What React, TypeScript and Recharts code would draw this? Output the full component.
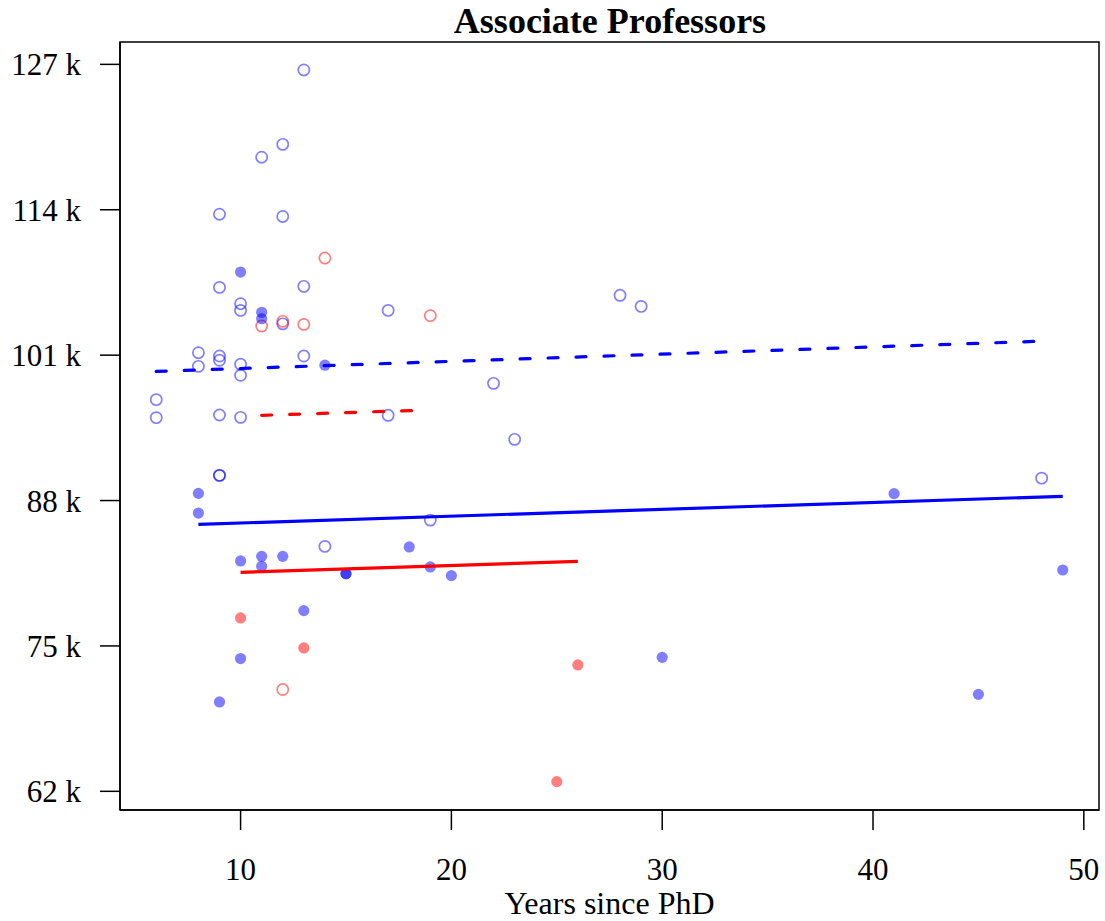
import React from "react";
import { ReferenceArea, Scatter, ScatterChart, XAxis, YAxis } from "recharts";

// years since PhD, salary in thousands
const blueOpenPts = [
  { x: 13, y: 126.5 }, { x: 12, y: 119.85 }, { x: 11, y: 118.7 }, { x: 9, y: 113.6 },
  { x: 12, y: 113.4 }, { x: 9, y: 107.06 }, { x: 13, y: 107.15 }, { x: 10, y: 105.6 },
  { x: 10, y: 105.0 }, { x: 17, y: 105.0 }, { x: 12, y: 103.8 }, { x: 8, y: 101.22 },
  { x: 8, y: 100.0 }, { x: 9, y: 100.92 }, { x: 9, y: 100.54 }, { x: 10, y: 100.18 },
  { x: 10, y: 99.2 }, { x: 13, y: 100.92 }, { x: 6, y: 97.02 }, { x: 6, y: 95.41 },
  { x: 9, y: 95.65 }, { x: 10, y: 95.44 }, { x: 17, y: 95.62 }, { x: 9, y: 90.25 },
  { x: 9, y: 90.25 }, { x: 22, y: 98.48 }, { x: 23, y: 93.47 }, { x: 28, y: 106.35 },
  { x: 29, y: 105.36 }, { x: 48, y: 90.0 }, { x: 19, y: 86.25 }, { x: 14, y: 83.9 },
];

const blueFilledPts = [
  { x: 10, y: 108.43 }, { x: 11, y: 104.83 }, { x: 11, y: 104.26 }, { x: 14, y: 100.1 },
  { x: 8, y: 88.64 }, { x: 8, y: 86.88 }, { x: 10, y: 82.6 }, { x: 11, y: 83.01 },
  { x: 11, y: 82.12 }, { x: 12, y: 83.01 }, { x: 15, y: 81.46 }, { x: 15, y: 81.46 },
  { x: 18, y: 83.85 }, { x: 19, y: 82.06 }, { x: 20, y: 81.29 }, { x: 13, y: 78.16 },
  { x: 10, y: 73.87 }, { x: 9, y: 69.99 }, { x: 30, y: 73.98 }, { x: 41, y: 88.62 },
  { x: 49, y: 81.79 }, { x: 45, y: 70.67 },
];

const redOpenPts = [
  { x: 14, y: 109.68 }, { x: 19, y: 104.53 }, { x: 11, y: 103.6 },
  { x: 12, y: 104.02 }, { x: 13, y: 103.75 }, { x: 12, y: 71.1 },
];

const redFilledPts = [
  { x: 10, y: 77.5 }, { x: 13, y: 74.82 }, { x: 26, y: 73.3 }, { x: 25, y: 62.87 },
];

// fitted lines (end points)
const blueOpenFit = [{ x: 6, y: 99.55 }, { x: 47.7, y: 102.23 }];
const redOpenFit = [{ x: 11, y: 95.62 }, { x: 18.5, y: 96.07 }];
const blueFilledFit = [{ x: 8, y: 85.87 }, { x: 49, y: 88.38 }];
const redFilledFit = [{ x: 10, y: 81.58 }, { x: 26, y: 82.56 }];

const xTicks = [10, 20, 30, 40, 50];
const yTicks = [62, 75, 88, 101, 114, 127];
const xRange = [4.28, 50.72];
const yRange = [60.33, 129.0];

const FONT = "'Liberation Serif', 'DejaVu Serif', serif";
const BLUE = "rgba(0,0,255,0.5)";
const RED = "rgba(255,0,0,0.5)";

const openDot = (color: string) => (p: any) => (
  <circle cx={p.cx} cy={p.cy} r={5.6} fill="none" stroke={color} strokeWidth={1.7} />
);
const filledDot = (color: string) => (p: any) => (
  <circle cx={p.cx} cy={p.cy} r={5.6} fill={color} stroke="none" />
);
const noDot = () => <g />;

export default function App() {
  const tickStyle = { fill: "#000", fontSize: 31, fontFamily: FONT };
  return (
    <div style={{ position: "absolute", left: 0, top: 0, width: 1105, height: 921, background: "#fff" }}>
      <div
        style={{
          position: "absolute",
          left: 120,
          top: 3,
          width: 980,
          textAlign: "center",
          fontFamily: FONT,
          fontWeight: "bold",
          fontSize: 36,
          lineHeight: "36px",
          color: "#000",
        }}
      >
        Associate Professors
      </div>
      <ScatterChart width={1105} height={921} margin={{ top: 42, right: 6, left: 0, bottom: 0 }}>
        <XAxis
          type="number"
          dataKey="x"
          domain={xRange}
          ticks={xTicks}
          allowDataOverflow
          height={111}
          tick={tickStyle}
          tickSize={20}
          tickMargin={28}
          axisLine={{ stroke: "#000", strokeWidth: 1.5 }}
          tickLine={{ stroke: "#000", strokeWidth: 1.5 }}
          label={{
            value: "Years since PhD",
            position: "insideBottom",
            offset: 7,
            style: { fill: "#000", fontSize: 32, fontFamily: FONT },
          }}
        />
        <YAxis
          type="number"
          dataKey="y"
          domain={yRange}
          ticks={yTicks}
          allowDataOverflow
          width={120}
          tick={tickStyle}
          tickSize={20}
          tickMargin={19}
          tickFormatter={(v: number) => `${v} k`}
          axisLine={{ stroke: "#000", strokeWidth: 1.5 }}
          tickLine={{ stroke: "#000", strokeWidth: 1.5 }}
        />
        <ReferenceArea
          x1={xRange[0]}
          x2={xRange[1]}
          y1={yRange[0]}
          y2={yRange[1]}
          fill="none"
          fillOpacity={0}
          stroke="#000"
          strokeWidth={1.5}
          strokeOpacity={1}
        />
        <Scatter data={blueOpenPts} shape={openDot(BLUE)} isAnimationActive={false} />
        <Scatter data={redOpenPts} shape={openDot(RED)} isAnimationActive={false} />
        <Scatter data={blueFilledPts} shape={filledDot(BLUE)} isAnimationActive={false} />
        <Scatter data={redFilledPts} shape={filledDot(RED)} isAnimationActive={false} />
        <Scatter
          data={blueOpenFit}
          shape={noDot}
          line={{ stroke: "#0000ff", strokeWidth: 3.2, strokeDasharray: "10 18", strokeLinecap: "round" }}
          isAnimationActive={false}
        />
        <Scatter
          data={redOpenFit}
          shape={noDot}
          line={{ stroke: "#ff0000", strokeWidth: 3.2, strokeDasharray: "10 18", strokeLinecap: "round" }}
          isAnimationActive={false}
        />
        <Scatter
          data={blueFilledFit}
          shape={noDot}
          line={{ stroke: "#0000ff", strokeWidth: 3.2 }}
          isAnimationActive={false}
        />
        <Scatter
          data={redFilledFit}
          shape={noDot}
          line={{ stroke: "#ff0000", strokeWidth: 3.2 }}
          isAnimationActive={false}
        />
      </ScatterChart>
    </div>
  );
}
